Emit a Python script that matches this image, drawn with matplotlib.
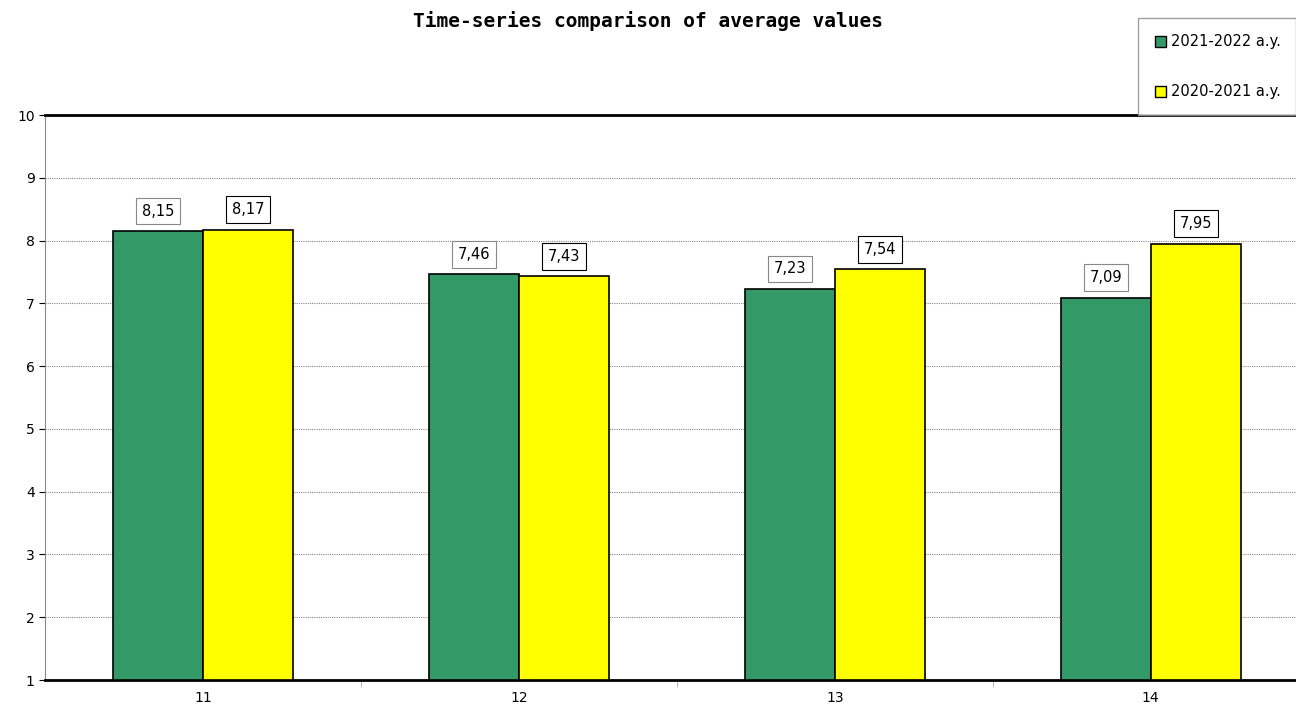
import matplotlib.pyplot as plt
import numpy as np
from matplotlib.patches import Patch

categories = ["11", "12", "13", "14"]
series_2122 = [8.15, 7.46, 7.23, 7.09]
series_2021 = [8.17, 7.43, 7.54, 7.95]
labels = ["2021-2022 a.y.", "2020-2021 a.y."]
green = "#339966"
yellow = "#FFFF00"

fig = plt.figure(figsize=(12.96, 7.11), dpi=100)
ax = fig.add_axes([45 / 1296, 1 - 680 / 711, 1 - 45 / 1296, (680 - 115) / 711])

x = np.arange(len(categories)) + 11
w = 0.285
ax.bar(x - w / 2, np.array(series_2122) - 1, w, bottom=1, color=green, edgecolor="black", linewidth=1.2, zorder=3)
ax.bar(x + w / 2, np.array(series_2021) - 1, w, bottom=1, color=yellow, edgecolor="black", linewidth=1.2, zorder=3)

for xi, v in zip(x - w / 2, series_2122):
    ax.text(xi, v + 0.2, f"{v:.2f}".replace(".", ","), ha="center", va="bottom", fontsize=10.5,
            bbox=dict(boxstyle="square,pad=0.4", fc="white", ec="#888888", lw=0.8), zorder=4)
for xi, v in zip(x + w / 2, series_2021):
    ax.text(xi, v + 0.2, f"{v:.2f}".replace(".", ","), ha="center", va="bottom", fontsize=10.5,
            bbox=dict(boxstyle="square,pad=0.4", fc="white", ec="black", lw=0.8), zorder=4)

ax.set_xlim(10.5, 14.46)
ax.set_ylim(1, 10)
ax.set_yticks(range(1, 11))
ax.set_xticks(x)
ax.set_xticklabels(categories)
ax.set_xticks([11.5, 12.5, 13.5], minor=True)
ax.tick_params(axis="x", which="major", length=0, pad=8)
ax.tick_params(axis="x", which="minor", length=5, color="#aaaaaa")
ax.tick_params(axis="y", length=4, labelsize=10)
ax.grid(axis="y", linestyle=(0, (1, 1)), color="#888888", linewidth=0.8, zorder=0)
ax.spines["top"].set_linewidth(2)
ax.spines["bottom"].set_linewidth(2)
ax.spines["left"].set_color("#888888")
ax.spines["right"].set_visible(False)

fig.suptitle("Time-series comparison of average values", x=0.5, y=0.985,
             fontsize=14, fontweight="bold", family="DejaVu Sans Mono")

handles = [Patch(facecolor=green, edgecolor="black"), Patch(facecolor=yellow, edgecolor="black")]
leg = fig.legend(handles, labels, loc="upper right", bbox_to_anchor=(1.006, 1 - 11 / 711),
                 fontsize=10.5, handlelength=0.8, handleheight=0.8, handletextpad=0.3,
                 labelspacing=2.4, borderpad=1.1, fancybox=False, edgecolor="#888888")
leg.get_frame().set_linewidth(1)

fig.savefig("out.png", dpi=100)
